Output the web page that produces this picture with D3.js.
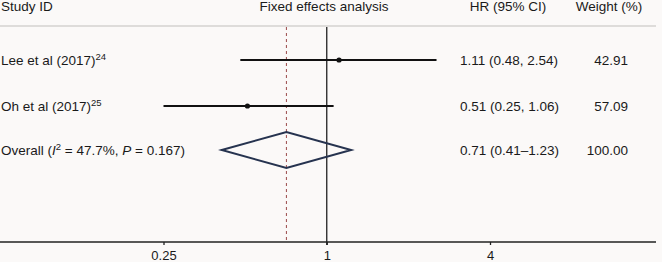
<!DOCTYPE html>
<html>
    <head>
        <script src="https://cdn.jsdelivr.net/npm/d3@7"></script>
    </head>
    <style>
        body { margin: 0; background: #fbf9f8; }
        text { font-family: "Liberation Sans", Arial, sans-serif; font-size: 13.5px; fill: #1a1a1a; }
    </style>
    <body>
        <div id="canvas"></div>
        <script>
            // study rows
            var studies = ['Lee et al (2017)', 'Oh et al (2017)'];
            var refs = ['24', '25'];
            var hr = [1.11, 0.51];
            var lower = [0.48, 0.25];
            var upper = [2.54, 1.06];
            var weights = ['42.91', '57.09'];
            var hrText = ['1.11 (0.48, 2.54)', '0.51 (0.25, 1.06)'];

            // pooled estimate
            var overall = { hr: 0.71, lower: 0.41, upper: 1.23 };
            var overallText = '0.71 (0.41\u20131.23)';
            var overallWeight = '100.00';

            var tickValues = [0.25, 1, 4];
            var tickLabels = ['0.25', '1', '4'];

            const w = 662;
            const h = 262;

            const svg = d3.select('#canvas')
                .append('svg')
                .attr('width', w)
                .attr('height', h);

            const x = d3.scaleLog().base(2)
                .domain([0.25, 4])
                .range([163.5, 490]);

            // row positions
            const rowY = [60, 106];
            const overallY = 150;
            const axisY = 242;
            const base = 5; // text baseline offset from row centre

            // headers
            svg.append('text').attr('x', 1).attr('y', 11).text('Study ID');
            svg.append('text').attr('x', 324).attr('y', 11).attr('text-anchor', 'middle').text('Fixed effects analysis');
            svg.append('text').attr('x', 508).attr('y', 11).attr('text-anchor', 'middle').text('HR (95% CI)');
            svg.append('text').attr('x', 609).attr('y', 11).attr('text-anchor', 'middle').text('Weight (%)');

            svg.append('line')
                .attr('x1', 0).attr('x2', 656)
                .attr('y1', 26).attr('y2', 26)
                .attr('stroke', '#d4d2d0')
                .attr('stroke-width', 1.5);

            // reference lines
            svg.append('line')
                .attr('x1', x(overall.hr)).attr('x2', x(overall.hr))
                .attr('y1', 27).attr('y2', axisY)
                .attr('stroke', '#9a4a4a')
                .attr('stroke-width', 1)
                .attr('stroke-dasharray', '3,3');

            svg.append('line')
                .attr('x1', x(1)).attr('x2', x(1))
                .attr('y1', 27).attr('y2', axisY + 3)
                .attr('stroke', '#222')
                .attr('stroke-width', 1.3);

            // CI lines and points
            svg.selectAll('.ci')
                .data(studies)
                .enter()
                .append('line')
                .attr('class', 'ci')
                .attr('x1', (d, i) => x(lower[i]))
                .attr('x2', (d, i) => x(upper[i]))
                .attr('y1', (d, i) => rowY[i])
                .attr('y2', (d, i) => rowY[i])
                .attr('stroke', '#111')
                .attr('stroke-width', 2);

            svg.selectAll('.pt')
                .data(studies)
                .enter()
                .append('circle')
                .attr('class', 'pt')
                .attr('cx', (d, i) => x(hr[i]))
                .attr('cy', (d, i) => rowY[i])
                .attr('r', 2.6)
                .attr('fill', '#111');

            // study labels with superscript refs
            var labels = svg.selectAll('.lbl')
                .data(studies)
                .enter()
                .append('text')
                .attr('class', 'lbl')
                .attr('x', 1)
                .attr('y', (d, i) => rowY[i] + base);
            labels.append('tspan').text(d => d);
            labels.append('tspan')
                .attr('dy', -5.5)
                .style('font-size', '9.5px')
                .text((d, i) => refs[i]);

            svg.selectAll('.hrt')
                .data(hrText)
                .enter()
                .append('text')
                .attr('x', 460)
                .attr('y', (d, i) => rowY[i] + base)
                .text(d => d);

            svg.selectAll('.wt')
                .data(weights)
                .enter()
                .append('text')
                .attr('x', 628)
                .attr('y', (d, i) => rowY[i] + base)
                .attr('text-anchor', 'end')
                .text(d => d);

            // overall diamond
            var dh = 18;
            var diamond = [
                [x(overall.lower), overallY],
                [x(overall.hr), overallY - dh],
                [x(overall.upper), overallY],
                [x(overall.hr), overallY + dh]
            ];
            svg.append('polygon')
                .attr('points', diamond.map(p => p.join(',')).join(' '))
                .attr('fill', 'none')
                .attr('stroke', '#26334f')
                .attr('stroke-width', 2);

            var ov = svg.append('text').attr('x', 1).attr('y', overallY + base);
            ov.append('tspan').text('Overall (');
            ov.append('tspan').style('font-style', 'italic').text('I');
            ov.append('tspan').attr('dy', -5.5).style('font-size', '9.5px').text('2');
            ov.append('tspan').attr('dy', 5.5).text(' = 47.7%, ');
            ov.append('tspan').style('font-style', 'italic').text('P');
            ov.append('tspan').text(' = 0.167)');

            svg.append('text').attr('x', 460).attr('y', overallY + base).text(overallText);
            svg.append('text').attr('x', 628).attr('y', overallY + base).attr('text-anchor', 'end').text(overallWeight);

            // x axis
            svg.append('line')
                .attr('x1', 0).attr('x2', 656)
                .attr('y1', axisY).attr('y2', axisY)
                .attr('stroke', '#222')
                .attr('stroke-width', 1.3);

            var axis = svg.append('g')
                .attr('transform', `translate(0,${axisY})`)
                .call(d3.axisBottom(x)
                    .tickValues(tickValues)
                    .tickSize(3)
                    .tickPadding(6)
                    .tickFormat((d, i) => tickLabels[i]));
            axis.select('.domain').remove();
            axis.selectAll('line').attr('stroke', '#222').attr('stroke-width', 1.3);
            axis.selectAll('text')
                .style('font-family', '"Liberation Sans", Arial, sans-serif')
                .style('font-size', '13px')
                .attr('fill', '#1a1a1a');
        </script>
    </body>
</html>
